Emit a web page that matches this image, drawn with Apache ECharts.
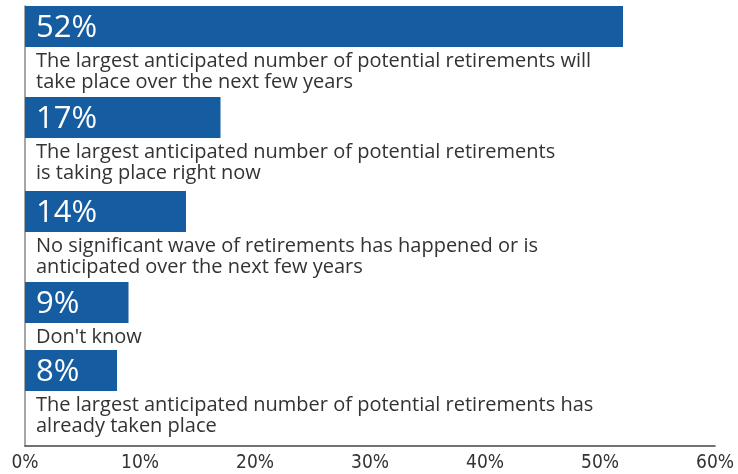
<!DOCTYPE html>
<html>
<head>
<meta charset="utf-8">
<script src="https://cdn.jsdelivr.net/npm/echarts@6/dist/echarts.min.js"></script>
<style>
  html, body { margin: 0; padding: 0; background: #fff; }
  #chart { width: 738px; height: 474px; }
</style>
</head>
<body>
<div id="chart"></div>
<script>
// Survey answers, top to bottom
const categories = [
  'The largest anticipated number of potential retirements will\ntake place over the next few years',
  'The largest anticipated number of potential retirements\nis taking place right now',
  'No significant wave of retirements has happened or is\nanticipated over the next few years',
  "Don't know",
  'The largest anticipated number of potential retirements has\nalready taken place'
];
const values = [52, 17, 14, 9, 8];
const tickLabels = ['0%', '10%', '20%', '30%', '40%', '50%', '60%'];

// Vertical layout: each answer gets its own strip (bar on top, wrapped text below)
const barTops = [6, 97, 191, 282, 350];
const BAR_H = 41;
const LEFT = 25, RIGHT = 23, AXIS_BOTTOM = 28;
const BAR_COLOR = '#155da0';
const TEXT_FONT = "'Open Sans', 'Noto Sans', sans-serif";
const TICK_FONT = "'Liberation Sans Narrow', 'DejaVu Sans Condensed', sans-serif";

const grids = [{ left: LEFT, right: RIGHT, top: barTops[0], bottom: AXIS_BOTTOM }];
const xAxes = [{
  gridIndex: 0, type: 'value', min: 0, max: 60, interval: 10,
  axisLine: { show: true, lineStyle: { color: '#444', width: 1.5 } },
  axisTick: { show: false },
  splitLine: { show: false },
  axisLabel: {
    formatter: (v) => tickLabels[Math.round(v / 10)],
    color: '#333', fontSize: 19, fontFamily: TICK_FONT, margin: 8
  }
}];
const yAxes = [{
  gridIndex: 0, type: 'value', min: 0, max: 1,
  axisLine: { show: true, lineStyle: { color: '#888', width: 1.5 } },
  axisTick: { show: false }, axisLabel: { show: false }, splitLine: { show: false }
}];
const series = [];

values.forEach((v, i) => {
  const g = i + 1;
  grids.push({ left: LEFT, right: RIGHT, top: barTops[i], height: BAR_H });
  xAxes.push({ gridIndex: g, type: 'value', min: 0, max: 60, show: false });
  yAxes.push({ gridIndex: g, type: 'category', data: [categories[i]], show: false });
  const lines = categories[i].split('\n').map(s => '{t|' + s + '}').join('\n');
  series.push({
    type: 'bar',
    xAxisIndex: g, yAxisIndex: g,
    data: [v],
    barWidth: BAR_H,
    itemStyle: { color: BAR_COLOR },
    silent: true,
    label: {
      show: true,
      position: [11, 0],
      formatter: (p) => '{v|' + p.value + '%}\n' + lines,
      rich: {
        v: { color: '#fff', fontSize: 31, fontFamily: TEXT_FONT, lineHeight: BAR_H + 3, height: BAR_H + 3 },
        t: { color: '#333', fontSize: 20, fontFamily: TEXT_FONT, lineHeight: 21.7 }
      }
    }
  });
});

const chart = echarts.init(document.getElementById('chart'), null, { renderer: 'canvas' });
chart.setOption({
  animation: false,
  grid: grids,
  xAxis: xAxes,
  yAxis: yAxes,
  series: series
});
</script>
</body>
</html>
